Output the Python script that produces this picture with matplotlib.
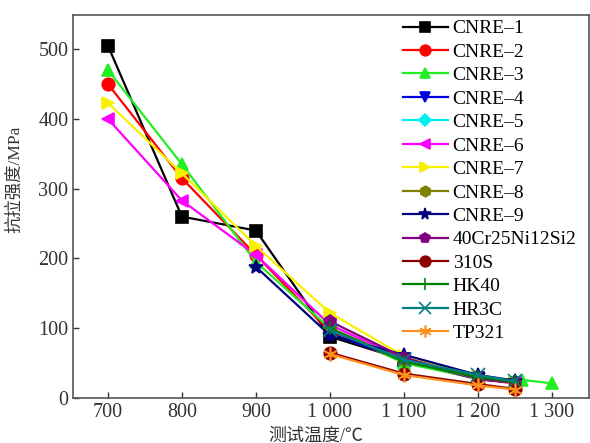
import matplotlib
matplotlib.use("Agg")
import matplotlib.pyplot as plt

plt.rcParams["font.family"] = ["Liberation Serif", "Noto Sans CJK SC", "DejaVu Sans"]

temps = [700, 800, 900, 1000, 1100, 1200, 1250]
temps_mid = [900, 1000, 1100, 1200, 1250]
temps_hi = [1000, 1100, 1200, 1250]

cnre_1 = [505, 260, 240, 88, 55, 28, 22]
cnre_2 = [450, 315, 205, 95, 52, 27, 21]
cnre_3_t = [700, 800, 900, 1000, 1100, 1200, 1260, 1300]
cnre_3 = [470, 335, 195, 100, 50, 28, 26, 21]
cnre_4 = [92, 55, 27, 22]
cnre_5 = [100, 56, 28, 23]
cnre_6 = [400, 283, 205, 105, 56, 28, 22]
cnre_7 = [423, 322, 218, 122, 60, 30, 23]
cnre_8 = [100, 55, 28, 22]
cnre_9 = [188, 90, 62, 33, 25]
cr40 = [110, 58, 28, 22]
s310 = [65, 35, 20, 13]
hk40 = [100, 52, 30, 23]
hr3c = [97, 55, 33, 24]
tp321 = [63, 33, 18, 12]

series = [
    ("CNRE–1", temps, cnre_1, "black", "s"),
    ("CNRE–2", temps, cnre_2, "#ff0000", "o"),
    ("CNRE–3", cnre_3_t, cnre_3, "#22ee22", "^"),
    ("CNRE–4", temps_hi, cnre_4, "#0000e0", "v"),
    ("CNRE–5", temps_hi, cnre_5, "#00f0f0", "D"),
    ("CNRE–6", temps, cnre_6, "#ff00ff", "<"),
    ("CNRE–7", temps, cnre_7, "#f8f000", ">"),
    ("CNRE–8", temps_hi, cnre_8, "#808000", "h"),
    ("CNRE–9", temps_mid, cnre_9, "#000080", "*"),
    ("40Cr25Ni12Si2", temps_hi, cr40, "#800080", "p"),
    ("310S", temps_hi, s310, "#8b0000", "o"),
    ("HK40", temps_hi, hk40, "#008000", "+"),
    ("HR3C", temps_hi, hr3c, "#008080", "x"),
    ("TP321", temps_hi, tp321, "#ff9020", (6, 2, 0)),
]

fig = plt.figure(figsize=(5.9, 4.43), dpi=100)
ax = fig.add_axes([0.124, 0.1016, 0.874, 0.8645])

for label, x, y, color, marker in series:
    size = 10 if marker in ("*", (6, 2, 0), "+", "x") else 9
    if marker == "D":
        size = 7.5
    ax.plot(x, y, color=color, marker=marker, markersize=size, lw=1.6,
            markeredgewidth=1.2, label=label)

ax.set_xlim(653, 1350)
ax.set_ylim(0, 549)
ax.set_xticks([700, 800, 900, 1000, 1100, 1200, 1300])
ax.set_xticklabels(["700", "800", "900", "1 000", "1 100", "1 200", "1 300"])
ax.set_yticks([0, 100, 200, 300, 400, 500])
ax.tick_params(direction="in", length=4, width=1, labelsize=14.5, colors="#333333")
for sp in ax.spines.values():
    sp.set_color("#555555")
    sp.set_linewidth(1.2)

ax.set_xlabel("测试温度/℃", fontsize=13, color="#333333")
ax.set_ylabel("抗拉强度/MPa", fontsize=12.5, color="#333333")
ax.yaxis.set_label_coords(-0.097, 0.57)
ax.xaxis.set_label_coords(0.47, -0.078)

ax.legend(loc="upper left", bbox_to_anchor=(0.617, 1.018), frameon=False,
          fontsize=14, labelspacing=0.3, handlelength=2.3, handletextpad=0.25,
          borderaxespad=0.2, markerscale=0.85)

fig.savefig("out.png", dpi=100)
